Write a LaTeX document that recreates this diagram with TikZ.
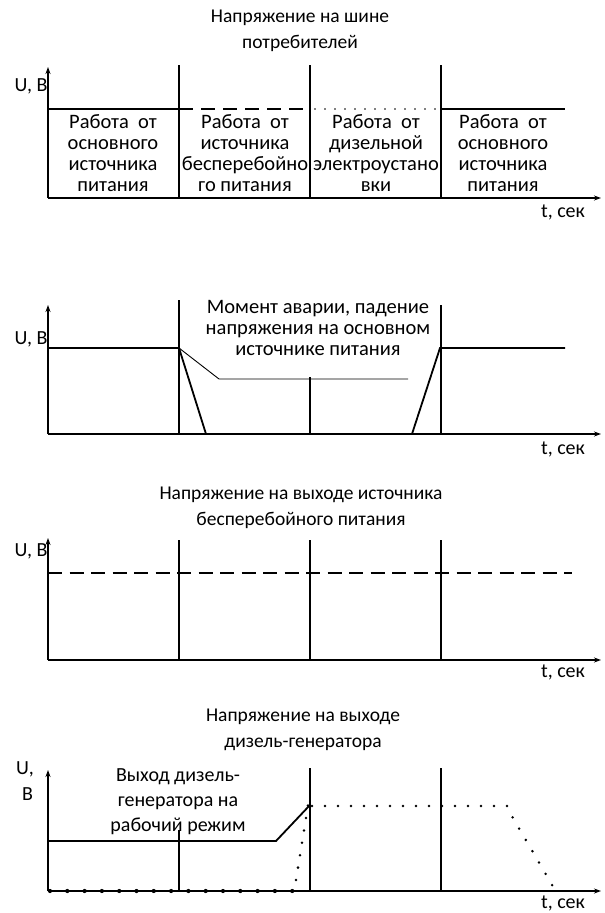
\documentclass[tikz,border=0pt]{standalone}
\usepackage{fontspec}
\setmainfont{Carlito}
\usetikzlibrary{arrows.meta}
\begin{document}
\begin{tikzpicture}[x=1pt,y=-1pt,
  axis/.style={line width=1.3pt,-{Stealth[length=7pt,width=5pt]}},
  vline/.style={line width=1.1pt},
  lvl/.style={line width=1.8pt},
  thinl/.style={line width=0.9pt},
  dashl/.style={line width=2.2pt,dash pattern=on 14pt off 8pt},
  dashu/.style={line width=1.7pt,dash pattern=on 14pt off 7.5pt},
  dotl/.style={line width=1.8pt,line cap=round,dash pattern=on 0pt off 10pt},
  txt/.style={font=\fontsize{20.5}{21}\selectfont,align=center,inner sep=0pt},
  ttl/.style={font=\fontsize{19.5}{26}\selectfont,align=center,inner sep=0pt},
  lab/.style={font=\fontsize{20}{21}\selectfont,inner sep=0pt},
  dot/.style={fill=black}]
\useasboundingbox (0,0) rectangle (605,913);
% ---------- Panel 1
\node[ttl] (t1) at (300,31) {Напряжение на шине\\потребителей};
\draw[axis] (48,198) -- (48,67);
\draw[axis] (48,198) -- (601,198);
\node[lab] (u1) at (31,86) {U, В};
\node[lab] (s1) at (563,212) {t, сек};
\foreach \x in {179,310,441} \draw[vline] (\x,65) -- (\x,198);
\draw[lvl] (48,109) -- (179,109);
\draw[dashl] (179,109) -- (310,109);
\draw[dotl] (315,109) -- (441,109);
\draw[lvl] (441,109) -- (565,109);
\node[txt] (c1) at (113,153) {Работа\ \ от\\основного\\источника\\питания};
\node[txt] (c2) at (245,153) {Работа\ \ от\\источника\\бесперебойно\\го питания};
\node[txt] (c3) at (376,153) {Работа\ \ от\\дизельной\\электроустано\\вки};
\node[txt] (c4) at (503,153) {Работа\ \ от\\основного\\источника\\питания};
% ---------- Panel 2
\draw[axis] (48,434) -- (48,305);
\draw[axis] (48,434) -- (601,434);
\node[lab] (u2) at (31,339) {U, В};
\node[lab] (s2) at (563,449) {t, сек};
\draw[vline] (179,300) -- (179,434);
\draw[vline] (441,305) -- (441,434);
\draw[vline] (310,377) -- (310,434);
\node[txt] (m2) at (318,328) {Момент аварии, падение\\напряжения на основном\\источнике питания};
\draw[lvl] (48,348) -- (179,348) -- (206,434) -- (412,434) -- (440,348) -- (565,348);
\draw[thinl] (179,348) -- (219,379) -- (408,379);
% ---------- Panel 3
\node[ttl] (t3) at (301,508) {Напряжение на выходе источника\\бесперебойного питания};
\draw[axis] (48,660) -- (48,538);
\draw[axis] (48,660) -- (601,660);
\node[lab] (u3) at (31,551) {U, В};
\node[lab] (s3) at (563,672) {t, сек};
\foreach \x in {179,310,441} \draw[vline] (\x,540) -- (\x,660);
\draw[dashu] (48,573) -- (572,573);
% ---------- Panel 4
\node[ttl] (t4) at (303,730) {Напряжение на выходе\\дизель-генератора};
\draw[axis] (48,891) -- (48,770);
\draw[axis] (48,891) -- (601,891);
\node[lab,anchor=west] (u4) at (16,769) {U,};
\node[lab,anchor=west] (b4) at (22,794) {В};
\node[lab] (s4) at (563,903) {t, сек};
\draw[vline] (179,830) -- (179,891);
\draw[vline] (310,768) -- (310,891);
\draw[vline] (441,768) -- (441,891);
\node[txt,font=\fontsize{20}{25}\selectfont] (m4) at (178,802) {Выход дизель-\\генератора на\\рабочий режим};
\draw[lvl] (48,841) -- (276,841) -- (310,805);
\foreach \i in {0,...,14} \fill[dot] ({50+17.3*\i},891) circle (2.1pt);
\foreach \i in {0,...,6} \fill[dot] ({296+2*\i},{880-12.4*\i}) circle (1.4pt);
\foreach \i in {0,...,15} \fill[dot] ({312+13*\i},806) circle (1.4pt);
\foreach \i in {1,...,7} \fill[dot] ({506+6.6*\i},{806+11.3*\i}) circle (1.4pt);
\end{tikzpicture}
\end{document}
